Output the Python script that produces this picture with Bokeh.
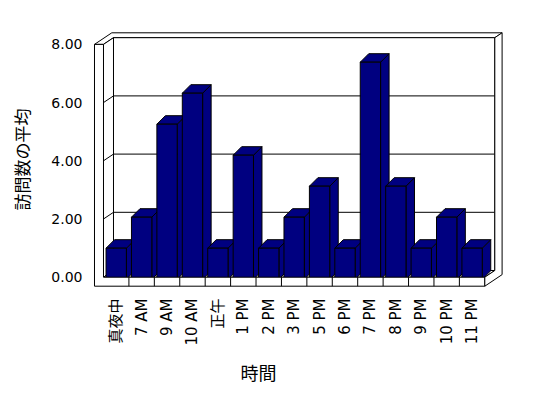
import math
from bokeh.plotting import figure
from bokeh.models import Range1d, FixedTicker, Title
from bokeh.embed import file_html
from bokeh.resources import INLINE

# ---- data ----
categories = ["真夜中", "7 AM", "9 AM", "10 AM", "正午", "1 PM", "2 PM", "3 PM",
              "5 PM", "6 PM", "7 PM", "8 PM", "9 PM", "10 PM", "11 PM"]
visits = [1, 2, 5, 6, 1, 4, 1, 2, 3, 1, 7, 3, 1, 2, 1]
y_ticks = [0, 2, 4, 6, 8]
y_tick_labels = ["0.00", "2.00", "4.00", "6.00", "8.00"]
x_title = "時間"
y_title = "訪問数の平均"

n = len(categories)
ymax = y_ticks[-1]

# ---- style / projection constants (pixels) ----
CAT_PX = 25.42      # px per category on the front plane
VAL_PX = 29.1       # px per value unit on the wall plane
BAR_VAL_PX = 31.0   # px per value unit for the (nearer) bars
WX = 10.0 / CAT_PX  # depth vector of the walls
WY = 6.7 / VAL_PX
DO = 1.73           # outer depth of back wall (incl. thickness)
TX = 9.0 / CAT_PX   # wall thickness
TY = 9.0 / VAL_PX
BDX = 8.5 / CAT_PX  # bar depth
BDY = 8.5 / BAR_VAL_PX
HALF = 0.4
NAVY = "#000080"

p = figure(width=532, height=392, output_backend="svg", toolbar_location=None,
           x_range=Range1d(-0.5114, 16.011), y_range=Range1d(-0.457, 8.546),
           min_border_left=90, min_border_right=22, min_border_top=28,
           min_border_bottom=102, background_fill_color="white",
           border_fill_color="white", outline_line_color=None)
p.extra_y_ranges = {"bars": Range1d(-0.3645, 8.087)}
p.grid.visible = False


def P(X, Y, d):
    return X + d * WX, Y + d * WY


def poly(pts):
    return [q[0] for q in pts], [q[1] for q in pts]


wall_xs, wall_ys = [], []
for pts in [
    [P(-TX, ymax, 0), P(-TX, ymax, DO), P(n, ymax, DO), P(n, ymax, 1), P(0, ymax, 1), P(0, ymax, 0)],
    [P(0, 0, 1), P(n, 0, 1), P(n, ymax, 1), P(0, ymax, 1)],
    [P(0, 0, 0), P(0, 0, 1), P(0, ymax, 1), P(0, ymax, 0)],
    [P(0, 0, 0), P(n, 0, 0), P(n, 0, 1), P(0, 0, 1)],
]:
    xs, ys = poly(pts)
    wall_xs.append(xs)
    wall_ys.append(ys)
p.patches(wall_xs, wall_ys, fill_color="white", line_color="black", line_width=1)

grid_xs, grid_ys = [], []
for yv in y_ticks[1:-1]:
    xs, ys = poly([P(-TX, yv, 0), P(0, yv, 0), P(0, yv, 1), P(n, yv, 1)])
    grid_xs.append(xs)
    grid_ys.append(ys)
p.multi_line(grid_xs, grid_ys, line_color="black", line_width=1)

# ---- bars ----
xc = [i + 0.5 for i in range(n)]
side_xs = [[x + HALF, x + HALF + BDX, x + HALF + BDX, x + HALF] for x in xc]
side_ys = [[0, BDY, v + BDY, v] for v in visits]
top_xs = [[x - HALF, x + HALF, x + HALF + BDX, x - HALF + BDX] for x in xc]
top_ys = [[v, v, v + BDY, v + BDY] for v in visits]
p.patches(side_xs, side_ys, fill_color=NAVY, line_color="black", line_width=1, y_range_name="bars")
p.patches(top_xs, top_ys, fill_color=NAVY, line_color="black", line_width=1, y_range_name="bars")
p.vbar(x=xc, top=visits, bottom=0, width=2 * HALF, fill_color=NAVY, line_color="black",
       line_width=1, y_range_name="bars")

# ---- floor front / right faces ----
front_xs, front_ys = [], []
for pts in [
    [P(-TX, ymax, 0), P(0, ymax, 0), P(0, 0, 0), P(n, 0, 0), P(n, -TY, 0), P(-TX, -TY, 0)],
    [P(n, ymax, 1), P(n, ymax, DO), P(n, -TY, DO), P(n, -TY, 0), P(n, 0, 0), P(n, 0, 1)],
]:
    xs, ys = poly(pts)
    front_xs.append(xs)
    front_ys.append(ys)
p.patches(front_xs, front_ys, fill_color="white", line_color="black", line_width=1)

div_xs, div_ys = [], []
for i in range(1, n):
    xs, ys = poly([P(i, 0, 0), P(i, -TY, 0)])
    div_xs.append(xs)
    div_ys.append(ys)
p.multi_line(div_xs, div_ys, line_color="black", line_width=1)

# ---- axes ----
LAT = "DejaVu Sans, Noto Sans CJK JP"
CJK = "Noto Sans CJK JP"
for ax in (p.xaxis[0], p.yaxis[0]):
    ax.axis_line_color = None
    ax.major_tick_line_color = None
    ax.minor_tick_line_color = None
    ax.major_tick_in = 0
    ax.major_tick_out = 0
    ax.major_label_text_font = LAT
    ax.major_label_text_color = "black"

p.yaxis.major_label_text_font_size = "14px"
p.yaxis.ticker = FixedTicker(ticks=y_ticks)
p.yaxis.major_label_overrides = {t: s for t, s in zip(y_ticks, y_tick_labels)}
p.yaxis.major_label_standoff = 8
p.yaxis.axis_label = y_title
p.yaxis.axis_label_text_font = CJK
p.yaxis.axis_label_text_font_size = "17px"
p.yaxis.axis_label_text_font_style = "normal"
p.yaxis.axis_label_text_color = "black"
p.yaxis.axis_label_standoff = 14

p.xaxis.major_label_text_font_size = "15px"
p.xaxis.ticker = FixedTicker(ticks=xc)
p.xaxis.major_label_overrides = {x: c for x, c in zip(xc, categories)}
p.xaxis.major_label_orientation = math.pi / 2
p.xaxis.major_label_standoff = 8

t = Title(text=x_title, align="left", offset=150, standoff=16, text_font=CJK,
          text_font_size="18px", text_font_style="normal", text_color="black")
p.add_layout(t, "below")

open("out.html", "w").write(file_html(p, INLINE))
